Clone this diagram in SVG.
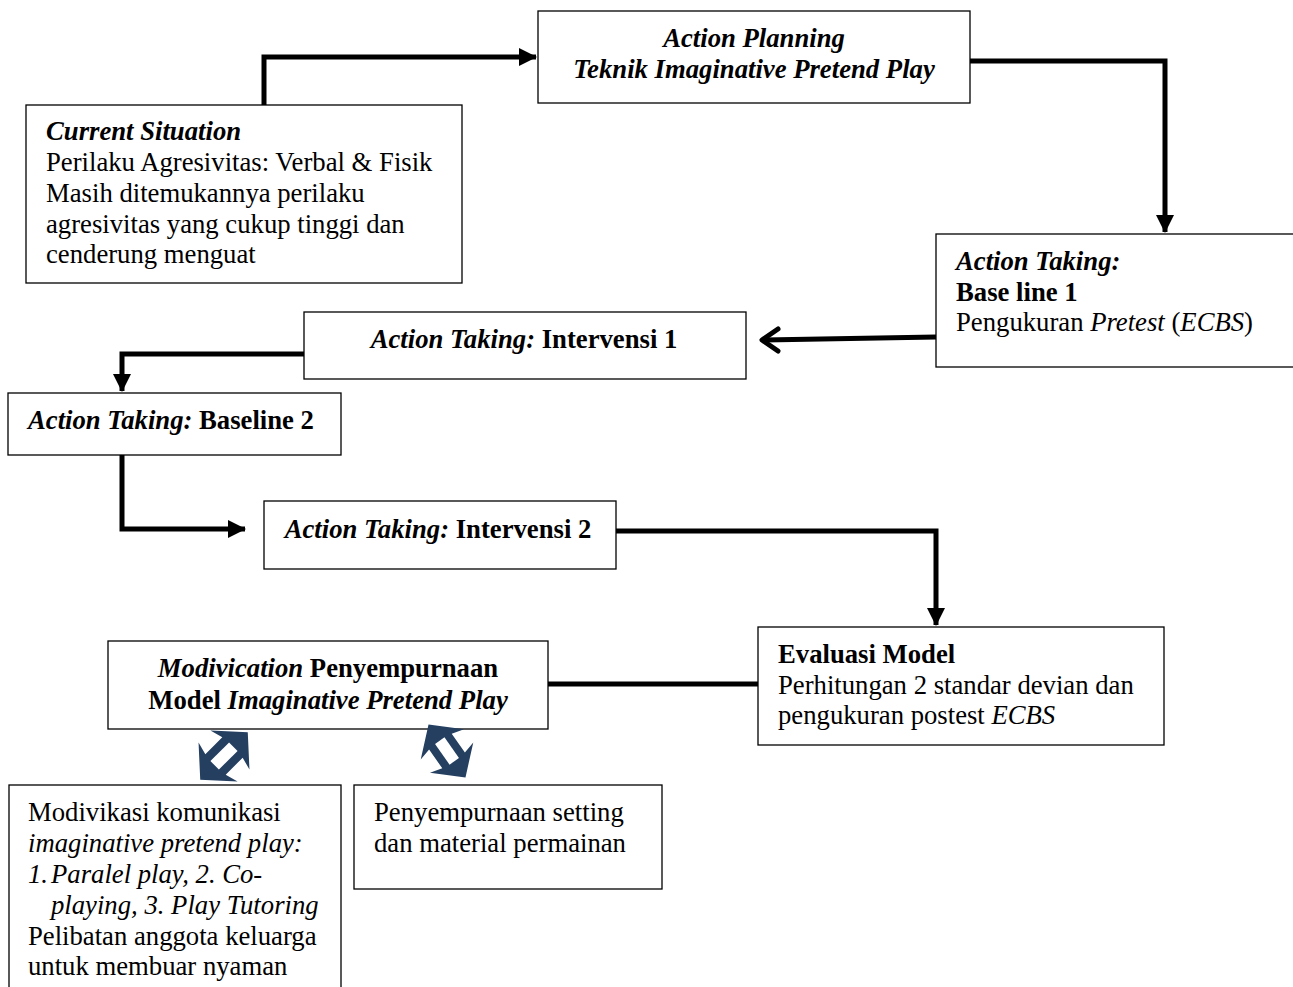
<svg xmlns="http://www.w3.org/2000/svg" width="1293" height="987" viewBox="0 0 1293 987">
<style>
.box{fill:#fff;stroke:#000;stroke-width:1.3}
text{font-family:"Liberation Serif","Times New Roman",serif;font-size:26.7px;fill:#000}
.b{font-weight:bold}
.i{font-style:italic}
.bi{font-weight:bold;font-style:italic}
.c{text-anchor:middle}
.con{fill:none;stroke:#000;stroke-width:5}
.blk{fill:#243F60}
</style>
<defs>
<marker id="ah" markerUnits="userSpaceOnUse" markerWidth="20" markerHeight="20" refX="17" refY="9" orient="auto">
<path d="M0,0 L18,9 L0,18 Z" fill="#000"/>
</marker>
<g id="dbl">
<polygon class="blk" points="0,-28 23,-7 12,-10 12,10 23,7 0,28 -23,7 -12,10 -12,-10 -23,-7"/>
<polygon fill="#fff" points="-5,-11 5,-11 5,11 -5,11"/>
</g>
</defs>

<g id="connectors">
<path class="con" d="M264,105 V57 H536" marker-end="url(#ah)"/>
<path class="con" d="M970,61 H1165 V232" marker-end="url(#ah)"/>
<path class="con" d="M936,337 L764,340"/>
<path d="M778,329 L762,340 L778,351" fill="none" stroke="#000" stroke-width="5" stroke-linecap="round" stroke-linejoin="round"/>
<path class="con" d="M304,354 H122 V391" marker-end="url(#ah)"/>
<path class="con" d="M122,455 V529 H245" marker-end="url(#ah)"/>
<path class="con" d="M616,531 H936 V625" marker-end="url(#ah)"/>
<path class="con" d="M758,684 H548"/>
</g>

<g id="action-planning">
<rect class="box" x="538" y="11" width="432" height="92"/>
<text class="bi c" x="754" y="47">Action Planning</text>
<text class="bi c" x="754" y="78">Teknik Imaginative Pretend Play</text>
</g>

<g id="current-situation">
<rect class="box" x="26" y="105" width="436" height="178"/>
<text x="46" y="140" class="bi">Current Situation</text>
<text x="46" y="171">Perilaku Agresivitas: Verbal &amp; Fisik</text>
<text x="46" y="202">Masih ditemukannya perilaku</text>
<text x="46" y="233">agresivitas yang cukup tinggi dan</text>
<text x="46" y="263">cenderung menguat</text>
</g>

<g id="baseline-1">
<rect class="box" x="936" y="234" width="360" height="133"/>
<text x="956" y="270" class="bi">Action Taking:</text>
<text x="956" y="301" class="b">Base line 1</text>
<text x="956" y="331">Pengukuran <tspan class="i">Pretest</tspan> (<tspan class="i">ECBS</tspan>)</text>
</g>

<g id="intervensi-1">
<rect class="box" x="304" y="312" width="442" height="67"/>
<text class="c" x="524" y="348"><tspan class="bi">Action Taking:</tspan><tspan class="b"> Intervensi 1</tspan></text>
</g>

<g id="baseline-2">
<rect class="box" x="8" y="393" width="333" height="62"/>
<text class="c" x="171" y="429"><tspan class="bi">Action Taking:</tspan><tspan class="b"> Baseline 2</tspan></text>
</g>

<g id="intervensi-2">
<rect class="box" x="264" y="501" width="352" height="68"/>
<text class="c" x="438" y="538"><tspan class="bi">Action Taking:</tspan><tspan class="b"> Intervensi 2</tspan></text>
</g>

<g id="evaluasi">
<rect class="box" x="758" y="627" width="406" height="118"/>
<text x="778" y="663" class="b">Evaluasi Model</text>
<text x="778" y="694">Perhitungan 2 standar devian dan</text>
<text x="778" y="724">pengukuran postest <tspan class="i">ECBS</tspan></text>
</g>

<g id="modivication">
<rect class="box" x="108" y="641" width="440" height="88"/>
<text class="c" x="328" y="677"><tspan class="bi">Modivication</tspan><tspan class="b"> Penyempurnaan</tspan></text>
<text class="c" x="328" y="709"><tspan class="b">Model </tspan><tspan class="bi">Imaginative Pretend Play</tspan></text>
</g>

<g id="double-arrow-1">
<use href="#dbl" transform="translate(224,756) rotate(45) scale(1.2)"/>
</g>
<g id="double-arrow-2">
<use href="#dbl" transform="translate(447,751) rotate(-35) scale(1.15)"/>
</g>

<g id="modivikasi-komunikasi">
<rect class="box" x="9" y="785" width="332" height="220"/>
<text x="28" y="821">Modivikasi komunikasi</text>
<text x="28" y="852" class="i">imaginative pretend play:</text>
<text x="28" y="883" class="i">1.<tspan x="51">Paralel play, 2. Co-</tspan></text>
<text x="51" y="914" class="i">playing, 3. Play Tutoring</text>
<text x="28" y="945">Pelibatan anggota keluarga</text>
<text x="28" y="975">untuk membuar nyaman</text>
</g>

<g id="penyempurnaan-setting">
<rect class="box" x="354" y="785" width="308" height="104"/>
<text x="374" y="821">Penyempurnaan setting</text>
<text x="374" y="852">dan material permainan</text>
</g>
</svg>
